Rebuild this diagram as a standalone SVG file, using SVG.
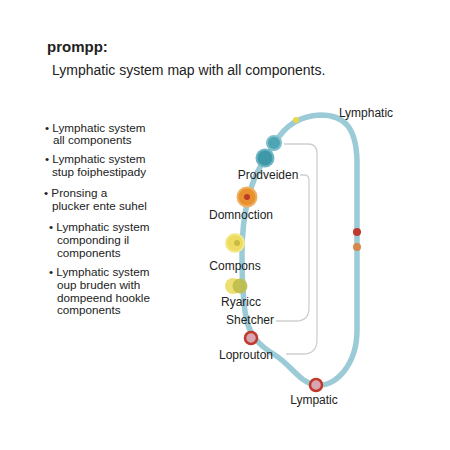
<svg xmlns="http://www.w3.org/2000/svg" width="450" height="450" viewBox="0 0 450 450">
<style>
text{font-family:"Liberation Sans",Arial,sans-serif;fill:#222}
.t{font-size:15px;font-weight:bold}
.s{font-size:14px}
.b{font-size:11.7px}
.l{font-size:12px;text-anchor:middle}
.vessel{fill:none;stroke:#9ccbd8;stroke-width:5.5;stroke-linecap:round}
.conn{fill:none;stroke:#cfcfcf;stroke-width:1.3}
</style>
<rect width="450" height="450" fill="#fff"/>
<text class="t" x="47" y="52">prompp:</text>
<text class="s" x="52" y="75">Lymphatic system map with all components.</text>
<g id="bullets" class="b">
<text x="45" y="132">• Lymphatic system</text>
<text x="53" y="144">all components</text>
<text x="45" y="163">• Lymphatic system</text>
<text x="52" y="176">stup foiphestipady</text>
<text x="44" y="197">• Pronsing a</text>
<text x="52" y="210">plucker ente suhel</text>
<text x="49" y="231">• Lymphatic system</text>
<text x="57" y="244">componding il</text>
<text x="57" y="257">components</text>
<text x="49" y="276">• Lymphatic system</text>
<text x="57" y="289">oup bruden with</text>
<text x="57" y="302">dompeend hookle</text>
<text x="57" y="314">components</text>
</g>
<g id="connectors">
<path class="vessel" d="M275,143 C285,125 300,116 320,115 C345,115 356,128 357,160 L357,330 C357,365 335,388 316,385 C300,383 292,366 275,355 C258,345 250,335 246,318 C243,300 242,280 242,255 C242,232 244,215 248,200 C252,180 260,165 275,143"/>
<path class="conn" d="M284,144 H308 Q317,144 317,153 V340 Q317,354 303,354 H286"/>
<path class="conn" d="M300,175 H304 Q309,175 309,180 V308 Q309,321 296,321 H276"/>
</g>
<g id="n-top1"><circle cx="274" cy="143" r="7" fill="#4fa5b3" stroke="#7fc0cc" stroke-width="2"/></g>
<g id="n-prodveiden"><circle cx="265" cy="158" r="8.5" fill="#3f98a8" stroke="#6db6c3" stroke-width="2"/><text class="l" x="268" y="179">Prodveiden</text></g>
<g id="n-domnoction"><circle cx="247" cy="197" r="9.5" fill="#e8922f" stroke="#f0b060" stroke-width="2"/><circle cx="247" cy="197" r="3" fill="#c0392b"/><text class="l" x="241" y="219">Domnoction</text></g>
<g id="n-compons"><circle cx="235" cy="243" r="9" fill="#eedc60" stroke="#f5e98e" stroke-width="2"/><circle cx="237" cy="243" r="3" fill="#c8bc45"/><text class="l" x="235" y="270">Compons</text></g>
<g id="n-ryaricc"><circle cx="233" cy="286" r="8" fill="#eadb5a" opacity="0.85"/><circle cx="240" cy="286" r="7.5" fill="#bfbd4a" opacity="0.9"/><text class="l" x="241" y="306">Ryaricc</text></g>
<g id="n-shetcher"><text class="l" x="250" y="324">Shetcher</text></g>
<g id="n-loprouton"><circle cx="251" cy="338" r="6" fill="#d8a5b0" stroke="#c0392b" stroke-width="2.5"/><text class="l" x="246" y="359">Loprouton</text></g>
<g id="n-lympatic"><circle cx="316" cy="385" r="6" fill="#d8a5b0" stroke="#c0392b" stroke-width="2.5"/><text class="l" x="314" y="404">Lympatic</text></g>
<g id="n-lymphatic"><circle cx="296" cy="120" r="3" fill="#e8d84a"/><text class="l" x="366" y="117">Lymphatic</text></g>
<g id="n-right"><circle cx="357" cy="232" r="4" fill="#c0392b"/><circle cx="357" cy="247" r="4" fill="#d4884a"/></g>
</svg>
